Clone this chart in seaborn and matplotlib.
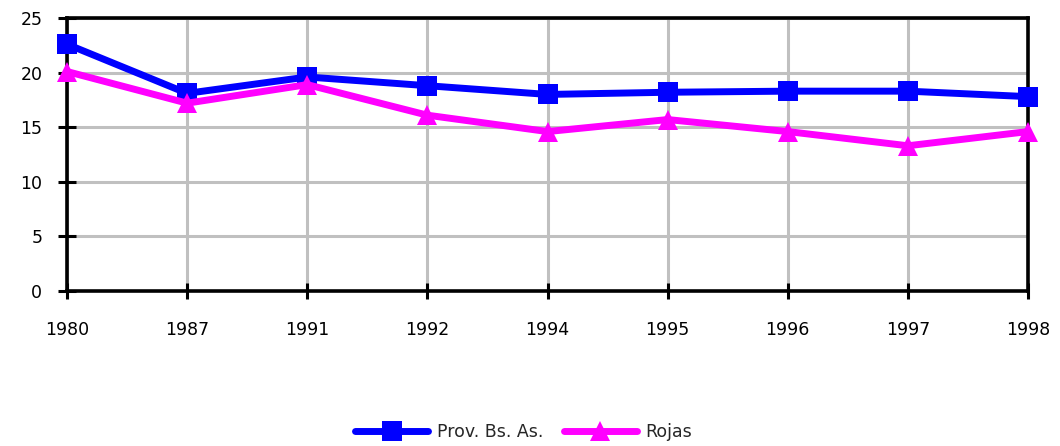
import matplotlib
matplotlib.use("Agg")
import matplotlib.pyplot as plt
import seaborn as sns
import pandas as pd

years = ["1980", "1987", "1991", "1992", "1994", "1995", "1996", "1997", "1998"]
prov_bs_as = [22.6, 18.1, 19.6, 18.8, 18.0, 18.2, 18.3, 18.3, 17.8]
rojas = [20.1, 17.2, 18.9, 16.1, 14.6, 15.7, 14.6, 13.3, 14.6]
series_names = ["Prov. Bs. As.", "Rojas"]
y_ticks = [0, 5, 10, 15, 20, 25]

df = pd.DataFrame({
    "year": years * 2,
    "value": prov_bs_as + rojas,
    "series": [series_names[0]] * len(years) + [series_names[1]] * len(years),
})

sns.set_theme(style="white")
plt.rcParams["font.family"] = ["DejaVu Sans"]

fig = plt.figure(figsize=(10.6, 4.46), dpi=100)
ax = fig.add_axes([67 / 1060, 1 - 291 / 446, (1028 - 67) / 1060, (291 - 18) / 446])

sns.lineplot(
    data=df, x="year", y="value", hue="series", style="series",
    palette={series_names[0]: "#0000FF", series_names[1]: "#FF00FF"},
    markers={series_names[0]: "s", series_names[1]: "^"},
    dashes=False, linewidth=5, markersize=14, markeredgewidth=0,
    clip_on=False, ax=ax, zorder=5,
)

ax.set_xlim(0, len(years) - 1)
ax.set_ylim(0, 25)
ax.set_yticks(y_ticks)
ax.set_xlabel("")
ax.set_ylabel("")

ax.grid(True, color="#c0c0c0", linewidth=2.2)
ax.set_axisbelow(True)
for side in ["left", "bottom", "top", "right"]:
    ax.spines[side].set_visible(True)
    ax.spines[side].set_color("black")
    ax.spines[side].set_linewidth(2.6)
    ax.spines[side].set_zorder(4)

ax.tick_params(axis="y", direction="inout", length=13.5, width=2.2, color="black",
               labelsize=12.5, pad=11, left=True)
ax.tick_params(axis="x", direction="inout", length=11, width=2.2, color="black",
               labelsize=12.5, pad=16, bottom=True)
for lbl in ax.get_xticklabels() + ax.get_yticklabels():
    lbl.set_color("black")

handles, labels = ax.get_legend_handles_labels()
ax.legend_.remove()
fig.legend(handles, labels, loc="center", bbox_to_anchor=(0.494, 0.031),
           ncol=2, frameon=False, fontsize=12.5, handlelength=4.2,
           columnspacing=1.2, handletextpad=0.5)

fig.savefig("out.png", dpi=100, facecolor="white")
